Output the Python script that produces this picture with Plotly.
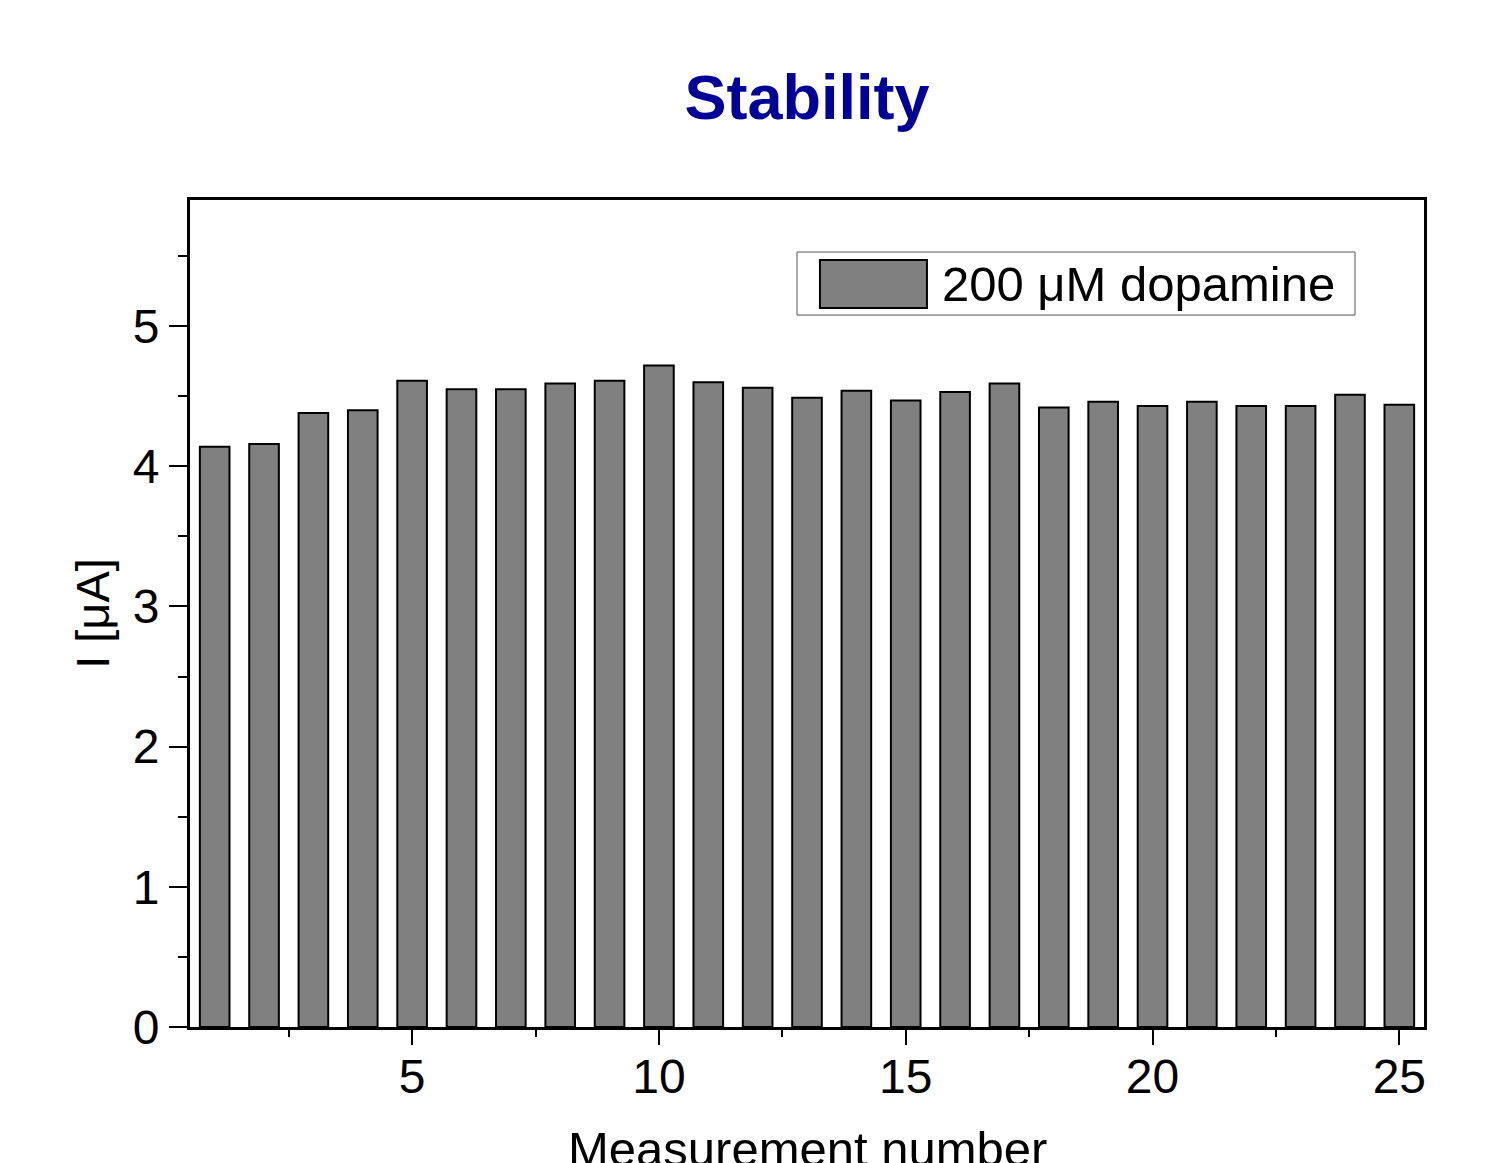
import plotly.graph_objects as go

measurement = list(range(1, 26))
current_uA = [4.14, 4.16, 4.38, 4.40, 4.61, 4.55, 4.55, 4.59, 4.61, 4.72,
              4.60, 4.56, 4.49, 4.54, 4.47, 4.53, 4.59, 4.42, 4.46, 4.43,
              4.46, 4.43, 4.43, 4.51, 4.44]
series_name = "200 μM dopamine"
title_text = "Stability"
x_title = "Measurement number"
y_title = "I [μA]"
x_ticks = [5, 10, 15, 20, 25]
y_ticks = [0, 1, 2, 3, 4, 5]

FONT = "Liberation Sans, Arial, sans-serif"
W, H = 1486, 1155

fig = go.Figure()
fig.add_trace(go.Bar(
    x=measurement, y=current_uA, name=series_name, width=0.6,
    marker=dict(color="#808080", line=dict(color="black", width=2)),
    showlegend=False,
))

fig.update_layout(
    width=W, height=H,
    margin=dict(l=182, r=70, t=192, b=136),
    paper_bgcolor="white", plot_bgcolor="white",
    font=dict(family=FONT, size=47, color="black"),
    title=dict(text="<b>" + title_text + "</b>", x=0.5, xref="paper", xanchor="center",
               y=1 - 89 / H, yanchor="middle",
               font=dict(family=FONT, size=63, color="#000099")),
)

fig.update_xaxes(
    range=[0.5, 25.5], tickvals=x_ticks, ticks="outside", ticklen=15, tickwidth=2,
    tickcolor="black", showline=True, linewidth=3, linecolor="black", mirror=True,
    showgrid=False, zeroline=False, automargin=False, ticklabelstandoff=-10,
    minor=dict(tickvals=[2.5, 7.5, 12.5, 17.5, 22.5], ticks="outside", ticklen=7,
               tickwidth=2, tickcolor="black", showgrid=False),
    tickfont=dict(size=48),
)
fig.update_yaxes(
    range=[0, 5.9], tickvals=y_ticks, ticks="outside", ticklen=18, tickwidth=2,
    tickcolor="black", showline=True, linewidth=3, linecolor="black", mirror=True,
    showgrid=False, zeroline=False, automargin=False,
    minor=dict(tickvals=[0.5, 1.5, 2.5, 3.5, 4.5, 5.5], ticks="outside", ticklen=9,
               tickwidth=2, tickcolor="black", showgrid=False),
    title=dict(text=y_title, standoff=9, font=dict(size=47)),
    tickfont=dict(size=48),
)

# x-axis title (partly below the page edge, as in the original)
fig.add_annotation(text=x_title, xref="paper", yref="paper",
                   x=0.5, y=-0.1125, xanchor="center", yanchor="top",
                   showarrow=False, font=dict(family=FONT, size=49, color="black"))

# legend box drawn to match the large swatch of the original
fig.add_shape(type="rect", xref="paper", yref="paper",
              x0=0.4919, x1=0.9441, y0=0.8609, y1=0.9371,
              line=dict(color="#555555", width=1), fillcolor="white", layer="above")
fig.add_shape(type="rect", xref="paper", yref="paper",
              x0=0.5105, x1=0.5972, y0=0.8694, y1=0.9274,
              line=dict(color="black", width=2), fillcolor="#808080", layer="above")
fig.add_annotation(text=series_name, xref="paper", yref="paper",
                   x=0.6078, y=0.8984, xanchor="left", yanchor="middle",
                   showarrow=False, font=dict(family=FONT, size=49, color="black"))

fig.write_html("out.html")
